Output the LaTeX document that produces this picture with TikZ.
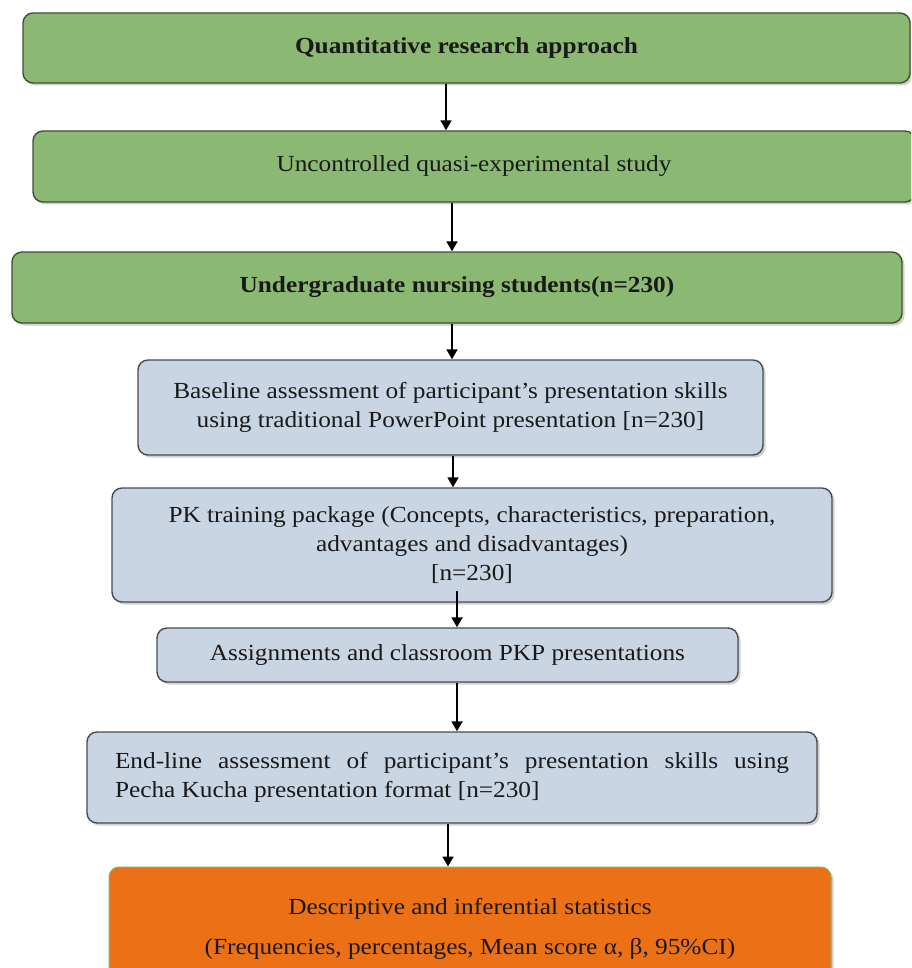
\documentclass[tikz,border=0pt]{standalone}
\usepackage{fontspec}
\setmainfont[FakeStretch=1.1]{Liberation Serif}
\usepackage{tikz}
\usetikzlibrary{arrows.meta,shadows}
\definecolor{boxgreen}{RGB}{139,185,116}
\definecolor{greenline}{RGB}{62,80,50}
\definecolor{boxgrey}{RGB}{201,213,226}
\definecolor{greyline}{RGB}{72,76,82}
\definecolor{boxorange}{RGB}{235,112,22}
\definecolor{orangeline}{RGB}{140,175,90}
\definecolor{inkdark}{RGB}{25,25,25}

\begin{document}
\begin{tikzpicture}[x=1pt,y=-1pt,
    box/.style={rounded corners=10pt,line width=1.4pt,inner sep=0pt,align=center,
      text=inkdark,font=\fontsize{23}{29}\selectfont,
      drop shadow={shadow xshift=2.5pt,shadow yshift=-2.5pt,opacity=0.3,fill=black!60}},
    greenbox/.style={box,draw=greenline,fill=boxgreen},
    greybox/.style={box,draw=greyline,fill=boxgrey},
    orangebox/.style={box,draw=orangeline,line width=1pt,fill=boxorange},
    arr/.style={line width=1.8pt,black,-{Triangle[length=10pt,width=11pt]}}]
  \fill[white] (0,0) rectangle (911,968);
  \useasboundingbox (0,0) rectangle (911,968);
  \clip (0,0) rectangle (911,968);

  \node[greenbox,minimum width=887pt,minimum height=70pt] (approach) at (466.5,48)
    {\bfseries Quantitative research approach};
  \node[greenbox,minimum width=882pt,minimum height=71pt] (design) at (474,166.5)
    {Uncontrolled quasi-experimental study};
  \node[greenbox,minimum width=890pt,minimum height=71pt] (sample) at (457,287.5)
    {\bfseries Undergraduate nursing students(n=230)};
  \node[greybox,minimum width=625pt,minimum height=95pt] (baseline) at (450.5,407.5)
    {Baseline assessment of participant's presentation skills\\
     using traditional PowerPoint presentation [n=230]};
  \node[greybox,minimum width=720pt,minimum height=114pt] (package) at (472,545)
    {PK training package (Concepts, characteristics, preparation,\\
     advantages and disadvantages)\\{[n=230]}};
  \node[greybox,minimum width=581pt,minimum height=54pt] (assign) at (447.5,655)
    {Assignments and classroom PKP presentations};
  \node[greybox,text width=674pt,align=justify,inner xsep=28pt,minimum height=91pt] (endline) at (452,777.5)
    {\hyphenpenalty=10000 End-line assessment of participant's presentation skills using\linebreak
     Pecha Kucha presentation format [n=230]};
  \node[orangebox,minimum width=722pt,minimum height=123pt] (stats) at (470,928.5)
    {Descriptive and inferential statistics\\[11pt]
     (Frequencies, percentages, Mean score α, β, 95\%CI)};

  \draw[arr] (approach.south -| 446,0) -- (design.north -| 446,0);
  \draw[arr] (design.south -| 452,0) -- (sample.north -| 452,0);
  \draw[arr] (sample.south -| 452,0) -- (baseline.north -| 452,0);
  \draw[arr] (baseline.south -| 453,0) -- (package.north -| 453,0);
  \draw[arr] (package.south -| 457,0) ++(0,-12) -- (assign.north -| 457,0);
  \draw[arr] (assign.south -| 457,0) -- (endline.north -| 457,0);
  \draw[arr] (endline.south -| 448,0) -- (stats.north -| 448,0);
\end{tikzpicture}
\end{document}
